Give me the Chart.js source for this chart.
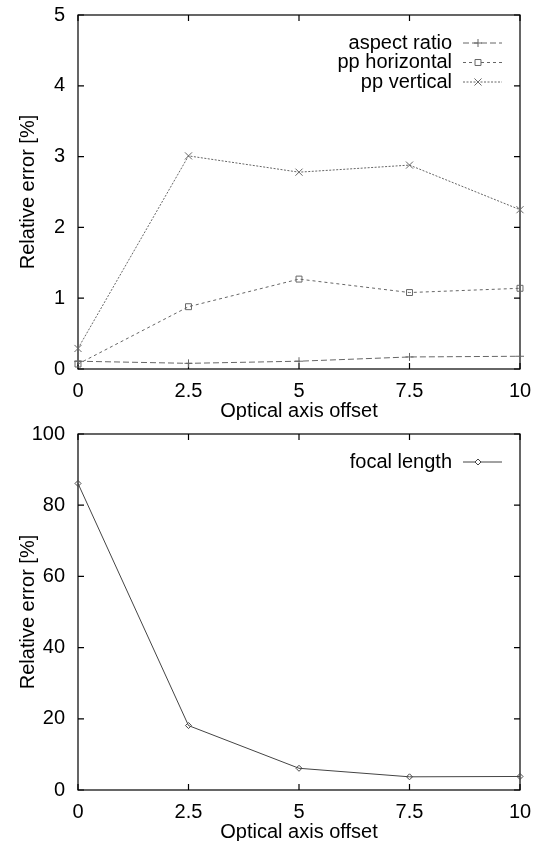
<!DOCTYPE html>
<html>
<head>
<meta charset="utf-8">
<script src="https://cdn.jsdelivr.net/npm/chart.js"></script>
<style>
  body { margin: 0; background: #fff; }
  canvas { display: block; }
</style>
</head>
<body>
<canvas id="topChart" width="533" height="420"></canvas>
<canvas id="bottomChart" width="533" height="421"></canvas>
<script>
// values
const offsets = [0, 2.5, 5, 7.5, 10];
const aspectRatio = [0.11, 0.08, 0.11, 0.17, 0.18];
const ppHorizontal = [0.07, 0.88, 1.27, 1.08, 1.14];
const ppVertical = [0.29, 3.01, 2.78, 2.88, 2.25];
const focalLength = [86.1, 18.1, 6.1, 3.7, 3.8];

const xTicks = [0, 2.5, 5, 7.5, 10];
const yTicksTop = [0, 1, 2, 3, 4, 5];
const yTicksBottom = [0, 20, 40, 60, 80, 100];

const FONT = { family: "'Liberation Sans', Arial, Helvetica, sans-serif", size: 20 };

function points(values) {
    return offsets.map((x, i) => ({ x: x, y: values[i] }));
}

// gnuplot-like frame with inward ticks on all four sides
const framePlugin = {
    id: 'frame',
    beforeDatasetsDraw(chart) {
        const { ctx, chartArea: a, scales } = chart;
        ctx.save();
        ctx.strokeStyle = '#000';
        ctx.lineWidth = 1.2;
        ctx.strokeRect(a.left, a.top, a.right - a.left, a.bottom - a.top);
        ctx.beginPath();
        scales.x.ticks.forEach(t => {
            const px = scales.x.getPixelForValue(t.value);
            ctx.moveTo(px, a.bottom); ctx.lineTo(px, a.bottom - 6);
            ctx.moveTo(px, a.top); ctx.lineTo(px, a.top + 6);
        });
        scales.y.ticks.forEach(t => {
            const py = scales.y.getPixelForValue(t.value);
            ctx.moveTo(a.left, py); ctx.lineTo(a.left + 6, py);
            ctx.moveTo(a.right, py); ctx.lineTo(a.right - 6, py);
        });
        ctx.stroke();
        ctx.restore();
    }
};

// legend: text right aligned, sample line with marker to the right
const keyPlugin = {
    id: 'key',
    afterDatasetsDraw(chart) {
        const { ctx, chartArea: a } = chart;
        ctx.save();
        ctx.font = FONT.size + 'px ' + FONT.family;
        ctx.textAlign = 'right';
        ctx.textBaseline = 'middle';
        chart.data.datasets.forEach((ds, i) => {
            const y = a.top + 28 + i * 19.5;
            ctx.fillStyle = '#000';
            ctx.fillText(ds.label, 452, y);
            ctx.strokeStyle = ds.borderColor;
            ctx.lineWidth = ds.borderWidth;
            ctx.setLineDash(ds.borderDash || []);
            ctx.beginPath();
            ctx.moveTo(463, y); ctx.lineTo(502, y);
            ctx.stroke();
            ctx.setLineDash([]);
            ctx.fillStyle = '#fff';
            Chart.helpers.drawPoint(ctx, {
                pointStyle: ds.pointStyle,
                radius: ds.pointRadius,
                borderWidth: 1,
                rotation: 0
            }, 478, y);
        });
        ctx.restore();
    }
};

function makeOptions(yTicks, yMax, topPad) {
    return {
        responsive: false,
        animation: false,
        layout: { padding: { top: topPad, right: 13, left: 0, bottom: 0 } },
        plugins: {
            legend: { display: false },
            tooltip: { enabled: false }
        },
        scales: {
            x: {
                type: 'linear',
                min: 0,
                max: 10,
                afterBuildTicks: s => { s.ticks = xTicks.map(v => ({ value: v })); },
                afterFit: s => { s.height = 51; s.paddingLeft = 0; s.paddingRight = 0; },
                grid: { display: false, drawTicks: false },
                border: { display: false },
                ticks: { color: '#000', font: FONT, padding: 10, maxRotation: 0 },
                title: { display: true, text: 'Optical axis offset', color: '#000', font: FONT, padding: { top: 0, bottom: -3 } }
            },
            y: {
                min: 0,
                max: yMax,
                afterBuildTicks: s => { s.ticks = yTicks.map(v => ({ value: v })); },
                afterFit: s => { s.width = 78; s.paddingTop = 0; s.paddingBottom = 0; },
                grid: { display: false, drawTicks: false },
                border: { display: false },
                ticks: { color: '#000', font: FONT, padding: 13 },
                title: { display: true, text: 'Relative error [%]', color: '#000', font: FONT, padding: { top: 16, bottom: 0 } }
            }
        }
    };
}

function lineSet(label, values, dash, style, radius, color) {
    return {
        label: label,
        data: points(values),
        borderColor: color,
        borderWidth: 1,
        borderDash: dash,
        pointStyle: style,
        pointRadius: radius,
        pointBorderColor: color,
        pointBackgroundColor: 'rgba(0,0,0,0)',
        pointBorderWidth: 1,
        tension: 0,
        clip: false
    };
}

new Chart(document.getElementById('topChart').getContext('2d'), {
    type: 'line',
    data: {
        datasets: [
            lineSet('aspect ratio', aspectRatio, [6, 3], 'cross', 4, '#666'),
            lineSet('pp horizontal', ppHorizontal, [3, 3], 'rect', 4.2, '#666'),
            lineSet('pp vertical', ppVertical, [2, 1.5], 'crossRot', 5, '#666')
        ]
    },
    options: makeOptions(yTicksTop, 5, 15),
    plugins: [framePlugin, keyPlugin]
});

new Chart(document.getElementById('bottomChart').getContext('2d'), {
    type: 'line',
    data: {
        datasets: [
            lineSet('focal length', focalLength, [], 'rectRot', 3, '#444')
        ]
    },
    options: makeOptions(yTicksBottom, 100, 14),
    plugins: [framePlugin, keyPlugin]
});
</script>
</body>
</html>
